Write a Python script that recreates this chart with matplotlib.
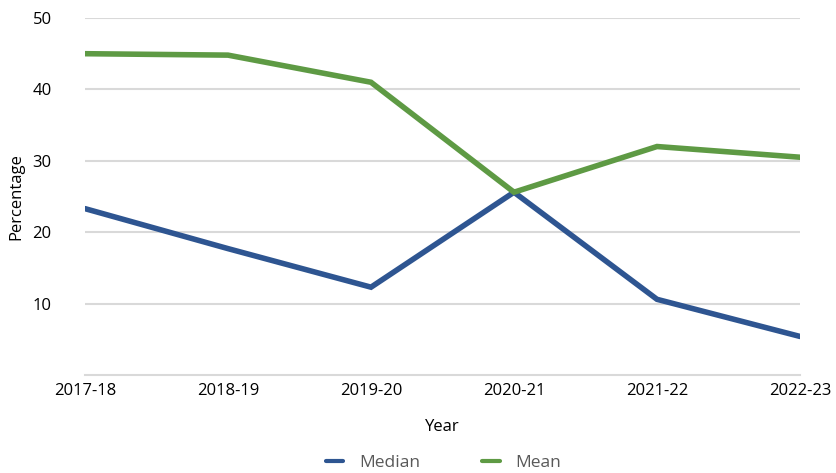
import matplotlib.pyplot as plt

years = ["2017-18", "2018-19", "2019-20", "2020-21", "2021-22", "2022-23"]
median = [23.3, 17.7, 12.3, 25.6, 10.6, 5.4]
mean = [45.0, 44.8, 41.0, 25.6, 32.0, 30.5]

plt.rcParams['font.family'] = ['Open Sans', 'DejaVu Sans']

fig = plt.figure(figsize=(8.37, 4.73), dpi=100)
ax = fig.add_axes([85 / 837, 1 - 375 / 473, 715 / 837, 357 / 473])

x = list(range(len(years)))
ax.plot(x, median, color='#2e5591', linewidth=4, solid_capstyle='round',
        solid_joinstyle='miter', label='Median')
ax.plot(x, mean, color='#5e9a44', linewidth=4, solid_capstyle='round',
        solid_joinstyle='miter', label='Mean')

ax.set_xlim(0, len(years) - 1)
ax.set_ylim(0, 50)
ax.set_yticks([10, 20, 30, 40, 50])
ax.set_xticks(x)
ax.set_xticklabels(years)
ax.yaxis.grid(True, color='#d9d9d9', linewidth=1.5)
ax.set_axisbelow(True)
for s in ['top', 'right', 'left']:
    ax.spines[s].set_visible(False)
ax.spines['bottom'].set_color('#d9d9d9')
ax.spines['bottom'].set_linewidth(1.5)
ax.tick_params(axis='both', length=0, labelsize=12, colors='black')
ax.tick_params(axis='x', pad=6)
ax.tick_params(axis='y', pad=24)

ax.set_xlabel('Year', fontsize=12, labelpad=14)
ax.set_ylabel('Percentage', fontsize=12, labelpad=6)

leg = fig.legend(loc='center', bbox_to_anchor=(0.53, 1 - 463 / 473), ncol=2,
                 frameon=False, fontsize=12.5, handlelength=1.0, columnspacing=3.6,
                 handletextpad=0.9, borderaxespad=0, borderpad=0)
for t in leg.get_texts():
    t.set_color('#595959')
for h in leg.get_lines():
    h.set_linewidth(3)

fig.savefig('out.png', dpi=100)
